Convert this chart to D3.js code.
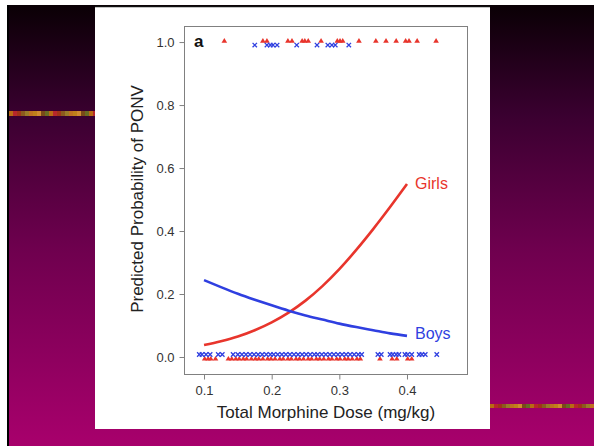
<!DOCTYPE html>
<html>
<head>
<meta charset="utf-8">
<script src="https://cdn.jsdelivr.net/npm/d3@7"></script>
<style>
  html, body { margin: 0; padding: 0; background: #fff; }
  svg { display: block; font-family: "Liberation Sans", Arial, sans-serif; }
</style>
</head>
<body>
<script>
// fitted curves
var doseSteps = [0.10, 0.125, 0.15, 0.175, 0.20, 0.225, 0.25, 0.275, 0.30, 0.325, 0.35, 0.375, 0.40];
var girlsProb = [0.038, 0.050, 0.065, 0.085, 0.110, 0.141, 0.179, 0.225, 0.279, 0.340, 0.406, 0.476, 0.549];
var boysProb  = [0.244, 0.222, 0.201, 0.182, 0.164, 0.147, 0.132, 0.119, 0.106, 0.095, 0.085, 0.075, 0.067];

// observed cases (PONV = 1 and PONV = 0)
var girlsYes = [0.130, 0.187, 0.193, 0.224, 0.230, 0.245, 0.249, 0.254, 0.273, 0.297, 0.301, 0.305,
  0.329, 0.354, 0.369, 0.384, 0.398, 0.403, 0.415, 0.443];
var boysYes = [0.175, 0.193, 0.198, 0.202, 0.208, 0.237, 0.267, 0.283, 0.289, 0.294, 0.314];
var girlsNo = [0.101, 0.106, 0.110, 0.117, 0.136, 0.141, 0.147, 0.152, 0.158, 0.163, 0.170, 0.176,
  0.181, 0.187, 0.194, 0.199, 0.205, 0.212, 0.217, 0.224, 0.229, 0.236, 0.241, 0.247, 0.254,
  0.259, 0.266, 0.271, 0.277, 0.284, 0.289, 0.296, 0.301, 0.308, 0.313, 0.319, 0.326, 0.331,
  0.360, 0.378, 0.385, 0.401, 0.407];
var boysNo = [0.093, 0.097, 0.103, 0.109, 0.121, 0.127, 0.143, 0.150, 0.156, 0.162, 0.168, 0.174,
  0.180, 0.186, 0.192, 0.198, 0.203, 0.209, 0.215, 0.221, 0.227, 0.233, 0.239, 0.245, 0.251,
  0.257, 0.263, 0.268, 0.274, 0.280, 0.286, 0.292, 0.298, 0.304, 0.310, 0.316, 0.322, 0.328,
  0.333, 0.357, 0.362, 0.375, 0.379, 0.384, 0.388, 0.397, 0.401, 0.407, 0.418, 0.422, 0.427, 0.444];

var xTicks = [0.1, 0.2, 0.3, 0.4];
var yTicks = [0.0, 0.2, 0.4, 0.6, 0.8, 1.0];

var red = '#e8352c';
var blue = '#2f3fe0';
var stripeColors = ['#b86a14', '#8c5a1e', '#c0801a', '#6a6a22', '#a03418', '#c07020', '#7a4a18', '#b8282a', '#9a7a28', '#d08a30'];

var width = 594, height = 446;

var svg = d3.select('body').append('svg')
  .attr('width', width)
  .attr('height', height);

// slide background
var defs = svg.append('defs');
var grad = defs.append('linearGradient')
  .attr('id', 'bg')
  .attr('x1', 0).attr('y1', 0).attr('x2', 0).attr('y2', 1);
grad.append('stop').attr('offset', '0%').attr('stop-color', '#0a0005');
grad.append('stop').attr('offset', '25%').attr('stop-color', '#3a0030');
grad.append('stop').attr('offset', '55%').attr('stop-color', '#6e004e');
grad.append('stop').attr('offset', '100%').attr('stop-color', '#a8006c');

svg.append('rect')
  .attr('x', 7).attr('y', 5)
  .attr('width', width - 7).attr('height', height - 5)
  .style('fill', 'url(#bg)');
svg.append('rect')
  .attr('x', 7).attr('y', 5)
  .attr('width', 2).attr('height', height - 5)
  .style('fill', '#000');

// decorative stripes
var drawStripe = function(x0, x1, y, h) {
  var n = Math.ceil((x1 - x0) / 4);
  for(var i = 0; i < n; i++) {
    svg.append('rect')
      .attr('x', x0 + i * 4).attr('y', y)
      .attr('width', 4).attr('height', h)
      .style('fill', stripeColors[(i * 7) % stripeColors.length]);
  }
};
drawStripe(9, 95, 111, 5);
drawStripe(490, 594, 404, 4);

// white figure panel
svg.append('rect')
  .attr('x', 95).attr('y', 6)
  .attr('width', 395).attr('height', 423)
  .style('fill', '#fff');
svg.append('line')
  .attr('x1', 95).attr('x2', 490)
  .attr('y1', 6.5).attr('y2', 6.5)
  .style('stroke', '#111')
  .style('stroke-width', 1.5);

var x = d3.scaleLinear().domain([0.0704, 0.4887]).range([184, 467]);
var y = d3.scaleLinear().domain([-0.054, 1.051]).range([374, 26]);

// frame
svg.append('rect')
  .attr('x', x.range()[0] + 0.5).attr('y', y.range()[1] + 0.5)
  .attr('width', x.range()[1] - x.range()[0]).attr('height', y.range()[0] - y.range()[1])
  .style('fill', 'none')
  .style('stroke', '#808080')
  .style('stroke-width', 1);

var xAxis = svg.append('g')
  .attr('transform', 'translate(0,' + (y.range()[0] + 0.5) + ')')
  .call(d3.axisBottom(x).tickValues(xTicks).tickSize(5).tickPadding(6).tickFormat(d3.format('.1f')));
var yAxis = svg.append('g')
  .attr('transform', 'translate(' + (x.range()[0] + 0.5) + ',0)')
  .call(d3.axisLeft(y).tickValues(yTicks).tickSize(5).tickPadding(5).tickFormat(d3.format('.1f')));

[xAxis, yAxis].forEach(function(g) {
  g.select('.domain').remove();
  g.selectAll('.tick line').style('stroke', '#808080');
  g.selectAll('.tick text')
    .style('font-family', '"Liberation Sans", Arial, sans-serif')
    .style('font-size', '13px')
    .style('fill', '#333');
});

svg.append('text')
  .attr('x', 326)
  .attr('y', 418)
  .attr('text-anchor', 'middle')
  .style('font-size', '17px')
  .style('fill', '#222')
  .text('Total Morphine Dose (mg/kg)');

svg.append('text')
  .attr('transform', 'translate(143,199) rotate(-90)')
  .attr('text-anchor', 'middle')
  .style('font-size', '17px')
  .style('fill', '#222')
  .text('Predicted Probability of PONV');

svg.append('text')
  .attr('x', 194)
  .attr('y', 47)
  .style('font-size', '17px')
  .style('font-weight', 'bold')
  .style('fill', '#111')
  .text('a');

// observed points
var trianglePath = 'M0,-2.6L2.8,2.1L-2.8,2.1Z';
var crossPath = 'M-2.2,-2.2L2.2,2.2M-2.2,2.2L2.2,-2.2';

var drawTriangles = function(values, level, dy) {
  svg.append('g').selectAll('path')
    .data(values)
    .enter().append('path')
    .attr('transform', function(d) { return 'translate(' + x(d) + ',' + (y(level) + dy) + ')'; })
    .attr('d', trianglePath)
    .style('fill', red);
};
var drawCrosses = function(values, level, dy) {
  svg.append('g').selectAll('path')
    .data(values)
    .enter().append('path')
    .attr('transform', function(d) { return 'translate(' + x(d) + ',' + (y(level) + dy) + ')'; })
    .attr('d', crossPath)
    .style('fill', 'none')
    .style('stroke', blue)
    .style('stroke-width', 1.3);
};

drawTriangles(girlsNo, 0, 1.5);
drawCrosses(boysNo, 0, -2.5);
drawTriangles(girlsYes, 1, -1.5);
drawCrosses(boysYes, 1, 3);

// fitted curves
var line = d3.line()
  .x(function(d) { return x(d[0]); })
  .y(function(d) { return y(d[1]); })
  .curve(d3.curveMonotoneX);

svg.append('path')
  .datum(d3.zip(doseSteps, girlsProb))
  .attr('d', line)
  .style('fill', 'none')
  .style('stroke', red)
  .style('stroke-width', 2.6);

svg.append('path')
  .datum(d3.zip(doseSteps, boysProb))
  .attr('d', line)
  .style('fill', 'none')
  .style('stroke', blue)
  .style('stroke-width', 2.6);

svg.append('text')
  .attr('x', 415).attr('y', 189)
  .style('font-size', '16px')
  .style('fill', red)
  .text('Girls');

svg.append('text')
  .attr('x', 415).attr('y', 339)
  .style('font-size', '16px')
  .style('fill', blue)
  .text('Boys');
</script>
</body>
</html>
